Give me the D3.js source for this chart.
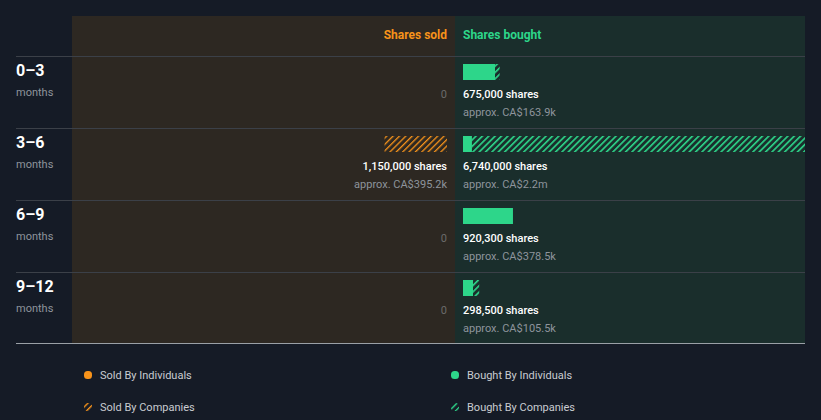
<!DOCTYPE html>
<html><head><meta charset="utf-8">
<script src="https://cdn.jsdelivr.net/npm/d3@7"></script>
<style>
html,body{margin:0;padding:0;background:#151b26;}
svg{display:block;font-family:Roboto, "Noto Sans", sans-serif;}
</style></head>
<body><svg id="c" width="821" height="420"></svg>
<script>
const periods = ["0\u20133", "3\u20136", "6\u20139", "9\u201312"];
const periodSub = ["months", "months", "months", "months"];
const soldIndividuals = [0, 0, 0, 0];
const soldCompanies = [0, 1150000, 0, 0];
const soldTotal = [0, 1150000, 0, 0];
const soldValue = ["", "approx. CA$395.2k", "", ""];
const boughtIndividuals = [590000, 165000, 920300, 185000];
const boughtCompanies = [85000, 6575000, 0, 113500];
const boughtTotal = [675000, 6740000, 920300, 298500];
const boughtValue = ["approx. CA$163.9k", "approx. CA$2.2m", "approx. CA$378.5k", "approx. CA$105.5k"];
const legendLabels = ["Sold By Individuals", "Bought By Individuals", "Sold By Companies", "Bought By Companies"];

(function () {
const ORANGE = "#f7931a", GREEN = "#2dd68a";
const svg = d3.select("#c");
const defs = svg.append("defs");
function hatch(id, color, bg, w) {
  const p = defs.append("pattern").attr("id", id).attr("patternUnits", "userSpaceOnUse")
    .attr("width", 4.5).attr("height", 4.5).attr("patternTransform", "rotate(45)");
  p.append("rect").attr("width", 4.5).attr("height", 4.5).attr("fill", bg);
  p.append("rect").attr("width", w).attr("height", 4.5).attr("fill", color);
}
hatch("hs", ORANGE, "#2d2822", 1.3);
hatch("hb", GREEN, "#1a2e2c", 1.6);
hatch("hsl", ORANGE, "#151b26", 1.4);
hatch("hbl", GREEN, "#151b26", 1.4);

const pLeft = 72, pMid = 455, pRight = 805, pTop = 16, headerBottom = 56, pBottom = 343;
svg.append("rect").attr("x", pLeft).attr("y", pTop).attr("width", pMid - pLeft).attr("height", pBottom - pTop).attr("fill", "#2d2822");
svg.append("rect").attr("x", pMid).attr("y", pTop).attr("width", pRight - pMid).attr("height", pBottom - pTop).attr("fill", "#1a2e2c");

svg.append("text").attr("x", 447).attr("y", 39).attr("text-anchor", "end").attr("fill", ORANGE)
  .attr("font-size", 12).attr("font-weight", 700).text("Shares sold");
svg.append("text").attr("x", 463).attr("y", 39).attr("fill", GREEN)
  .attr("font-size", 12).attr("font-weight", 700).text("Shares bought");

const y = d3.scaleBand().domain(periods).range([headerBottom, headerBottom + 72 * periods.length]);
const xb = d3.scaleLinear().domain([0, 6300000]).range([0, 342]).clamp(true);
const bx0 = 463, sx0 = 447;

svg.append("clipPath").attr("id", "clipB").append("rect").attr("x", pMid).attr("y", pTop).attr("width", pRight - pMid).attr("height", pBottom - pTop);

periods.forEach((p, i) => {
  const y0 = y(p);
  svg.append("line").attr("x1", 16).attr("x2", pRight).attr("y1", y0 + 0.5).attr("y2", y0 + 0.5)
    .attr("stroke", "#3b4048").attr("stroke-width", 1);
  svg.append("text").attr("x", 16).attr("y", y0 + 20).attr("fill", "#ffffff").attr("font-size", 16).attr("font-weight", 700).text(p);
  svg.append("text").attr("x", 16).attr("y", y0 + 40).attr("fill", "#8e949c").attr("font-size", 11).text(periodSub[i]);

  const by = y0 + 8, bh = 16;
  if (soldTotal[i] > 0) {
    const wi = xb(soldIndividuals[i]), wc = xb(soldCompanies[i]);
    svg.append("rect").attr("x", sx0 - wi).attr("y", by).attr("width", wi).attr("height", bh).attr("fill", ORANGE);
    svg.append("rect").attr("x", sx0 - wi - wc).attr("y", by).attr("width", wc).attr("height", bh).attr("fill", "url(#hs)");
    svg.append("text").attr("x", sx0).attr("y", y0 + 42).attr("text-anchor", "end").attr("fill", "#ffffff").attr("font-size", 11).attr("font-weight", 500)
      .text(d3.format(",")(soldTotal[i]) + " shares");
    svg.append("text").attr("x", sx0).attr("y", y0 + 60).attr("text-anchor", "end").attr("fill", "#8e949c").attr("font-size", 11).text(soldValue[i]);
  } else {
    svg.append("text").attr("x", sx0).attr("y", y0 + 42).attr("text-anchor", "end").attr("fill", "#6b6b6b").attr("font-size", 11).text("0");
  }
  const g = svg.append("g").attr("clip-path", "url(#clipB)");
  const wi = xb(boughtIndividuals[i]), wc = Math.max(0, xb(boughtIndividuals[i] + boughtCompanies[i]) - wi);
  g.append("rect").attr("x", bx0).attr("y", by).attr("width", wi).attr("height", bh).attr("fill", GREEN);
  if (wc > 0) g.append("rect").attr("x", bx0 + wi).attr("y", by).attr("width", wc).attr("height", bh).attr("fill", "url(#hb)");
  svg.append("text").attr("x", bx0).attr("y", y0 + 42).attr("fill", "#ffffff").attr("font-size", 11).attr("font-weight", 500)
    .text(d3.format(",")(boughtTotal[i]) + " shares");
  svg.append("text").attr("x", bx0).attr("y", y0 + 60).attr("fill", "#8e949c").attr("font-size", 11).text(boughtValue[i]);
});
svg.append("line").attr("x1", 16).attr("x2", pRight).attr("y1", pBottom + 0.5).attr("y2", pBottom + 0.5)
  .attr("stroke", "#9aa0a6").attr("stroke-width", 1);

const legPos = [[88, 375], [455, 375], [88, 407], [455, 407]];
const legFill = [ORANGE, GREEN, "url(#hsl)", "url(#hbl)"];
legendLabels.forEach((l, i) => {
  const [lx, ly] = legPos[i];
  svg.append("rect").attr("x", lx - 4).attr("y", ly - 4).attr("width", 8).attr("height", 8).attr("rx", 3.5)
    .attr("fill", legFill[i]);
  svg.append("text").attr("x", lx + 12).attr("y", ly + 4).attr("fill", "#c9ccd1").attr("font-size", 11).text(l);
});
})();
</script></body></html>
